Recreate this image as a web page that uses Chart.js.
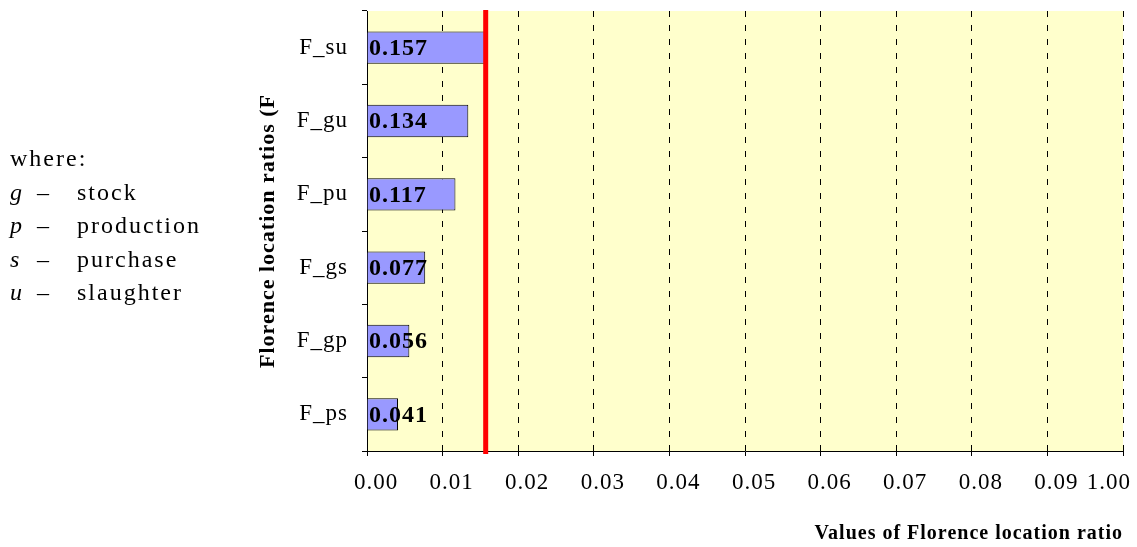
<!DOCTYPE html>
<html lang="en">
<head>
<meta charset="UTF-8">
<title>Florence location ratios</title>
<script src="https://cdn.jsdelivr.net/npm/chart.js"></script>
<style>
  html, body { margin: 0; padding: 0; background: #fff; }
  #caixa { position: relative; width: 1137px; height: 547px; }
  #legenda {
    position: absolute; left: 10px; top: 142px;
    font-family: "Liberation Serif", serif; font-size: 24px;
    line-height: 33.5px; letter-spacing: 2px; color: #000;
  }
  #legenda .l { display: inline-block; width: 27px; font-style: italic; }
  #legenda .t { display: inline-block; width: 40px; }
</style>
</head>
<body>
<div id="caixa">
  <canvas id="grafico" width="1137" height="547"></canvas>
  <div id="legenda">
    <div>where:</div>
    <div><span class="l">g</span><span class="t">–</span>stock</div>
    <div><span class="l">p</span><span class="t">–</span>production</div>
    <div><span class="l">s</span><span class="t">–</span>purchase</div>
    <div><span class="l">u</span><span class="t">–</span>slaughter</div>
  </div>
</div>

<script>
// dados
const categorias = ['F_su', 'F_gu', 'F_pu', 'F_gs', 'F_gp', 'F_ps'];
const valores = [0.157, 0.134, 0.117, 0.077, 0.056, 0.041];
const rotulosX = ['0.00', '0.01', '0.02', '0.03', '0.04', '0.05', '0.06', '0.07', '0.08', '0.09', '1.00'];
const valoresX = [0, 0.1, 0.2, 0.3, 0.4, 0.5, 0.6, 0.7, 0.8, 0.9, 1.0];
const limite = 0.157; // linha vermelha

const serif = '"Liberation Serif", "Times New Roman", serif';

// fundo amarelo da area do grafico
const fundo = {
    id: 'fundo',
    beforeDraw(chart) {
        const a = chart.chartArea;
        const ctx = chart.ctx;
        ctx.letterSpacing = '1px';
        ctx.save();
        ctx.fillStyle = '#FFFFCC';
        ctx.fillRect(a.left, a.top, a.right - a.left, a.bottom - a.top);
        ctx.restore();
    }
};

// linha vermelha e rotulos das barras
const extras = {
    id: 'extras',
    afterDatasetsDraw(chart) {
        const ctx = chart.ctx;
        const a = chart.chartArea;
        const x = chart.scales.x.getPixelForValue(limite);
        ctx.save();
        ctx.strokeStyle = '#FF0000';
        ctx.lineWidth = 5;
        ctx.beginPath();
        ctx.moveTo(x, a.top - 1);
        ctx.lineTo(x, a.bottom + 3);
        ctx.stroke();

        ctx.fillStyle = '#000';
        ctx.font = 'bold 24px ' + serif;
        ctx.letterSpacing = '1px';
        ctx.textAlign = 'left';
        ctx.textBaseline = 'middle';
        const meta = chart.getDatasetMeta(0);
        meta.data.forEach(function (barra, i) {
            ctx.fillText(valores[i].toFixed(3), a.left + 2, barra.y + 1);
        });
        ctx.restore();
    },
    afterDraw(chart) {
        // rotulos do eixo x (formato do original)
        const ctx = chart.ctx;
        const escala = chart.scales.x;
        ctx.save();
        ctx.fillStyle = '#000';
        ctx.font = '23px ' + serif;
        ctx.letterSpacing = '1px';
        ctx.textAlign = 'center';
        ctx.textBaseline = 'middle';
        for (let i = 0; i < rotulosX.length; i++) {
            let px = escala.getPixelForValue(valoresX[i]) + 9;
            const w = ctx.measureText(rotulosX[i]).width;
            if (px + w / 2 > chart.width - 6) px = chart.width - 6 - w / 2;
            ctx.fillText(rotulosX[i], px, 483);
        }
        ctx.restore();
    }
};

new Chart(document.getElementById('grafico'), {
    type: 'bar',
    data: {
        labels: categorias,
        datasets: [{
            data: valores,
            backgroundColor: '#9999FF',
            borderColor: '#000',
            borderWidth: 1,
            barPercentage: 0.44,
            categoryPercentage: 1
        }]
    },
    options: {
        indexAxis: 'y',
        responsive: false,
        animation: false,
        layout: { padding: { left: 250, top: 11, right: 14, bottom: 0 } },
        plugins: {
            legend: { display: false },
            tooltip: { enabled: false }
        },
        scales: {
            x: {
                type: 'linear',
                min: 0,
                max: 1,
                ticks: { stepSize: 0.1, display: false },
                grid: { color: '#000', lineWidth: 1, tickLength: 5, tickColor: '#000', tickWidth: 1 },
                border: { display: true, color: '#000', width: 1, dash: [6, 8] },
                title: {
                    display: true,
                    text: 'Values of Florence location ratio',
                    align: 'end',
                    color: '#000',
                    font: { family: serif, size: 20, weight: 'bold' },
                    padding: { top: 66, bottom: 1 }
                },
                afterFit(escala) { escala.paddingLeft = 0; escala.paddingRight = 0; }
            },
            y: {
                grid: { drawOnChartArea: false, drawTicks: true, tickLength: 5, tickColor: '#000', color: '#000' },
                border: { display: true, color: '#000', width: 1 },
                ticks: { color: '#000', padding: 14, font: { family: serif, size: 23 } },
                title: {
                    display: true,
                    text: 'Florence location ratios (F',
                    color: '#000',
                    font: { family: serif, size: 22, weight: 'bold' },
                    padding: { top: 5, bottom: 0 }
                },
                afterFit(escala) {
                    escala.width = 117;
                    escala.paddingTop = 0;
                    escala.paddingBottom = 0;
                }
            }
        }
    },
    plugins: [fundo, extras]
});
</script>
</body>
</html>
